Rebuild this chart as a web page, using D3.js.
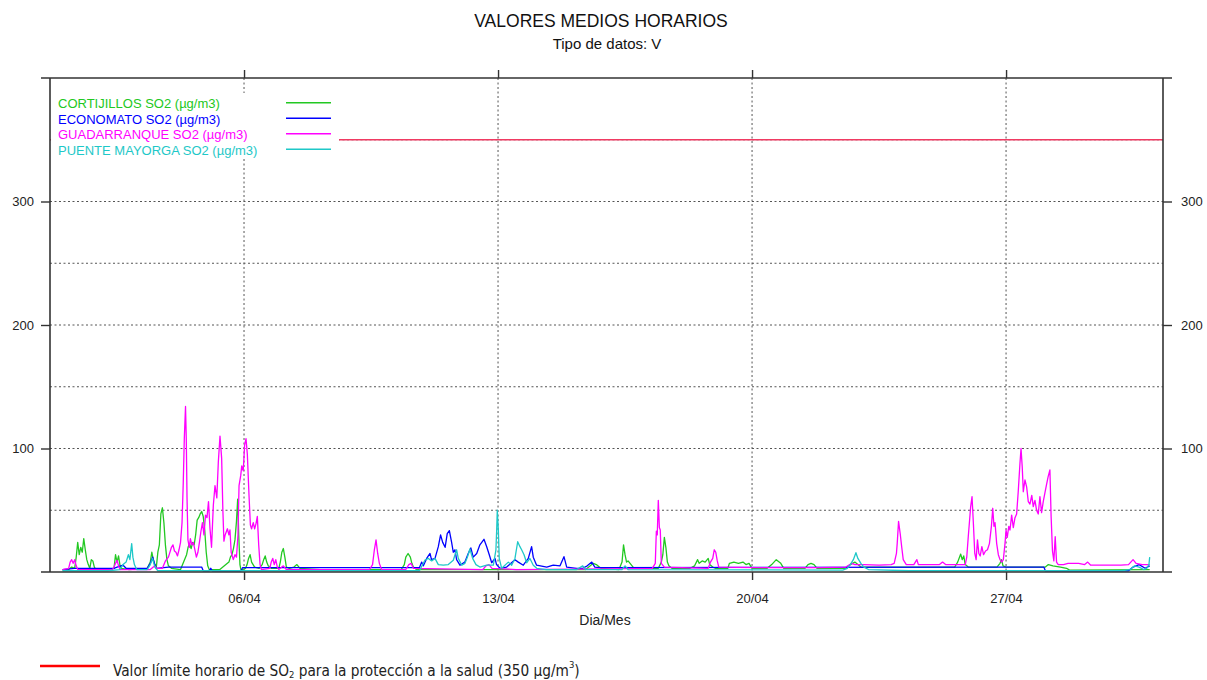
<!DOCTYPE html>
<html>
<head>
<meta charset="utf-8">
<script src="https://cdn.jsdelivr.net/npm/d3@7"></script>
<style>
  html, body { margin: 0; padding: 0; background: #fff; }
  svg { display: block; font-family: "Liberation Sans", Arial, sans-serif; }
</style>
</head>
<body>
<svg id="chart" width="1207" height="680"></svg>
<script>
// ---------------- DATA (hour since 01/04 00:00, value µg/m3) ----------------
const seriesNames = ["CORTIJILLOS SO2 (µg/m3)", "ECONOMATO SO2 (µg/m3)", "GUADARRANQUE SO2 (µg/m3)", "PUENTE MAYORGA SO2 (µg/m3)"];

const cortijillos = [[0,1.5],[4,2],[6,4],[8,3],[9,12],[10,24],[11,14],[12,20],[13,16],[14,27],[15,18],[16,10],[17,6],[18,3],[19,10],[20,9],[21,4],[22,2],[34,3],[35,14],[36,8],[37,13],[38,5],[39,3],[44,2],[56,3],[58,8],[59,16],[60,10],[61,6],[62,4],[63,16],[64,22],[65,47],[66,52],[67,40],[68,22],[69,10],[70,5],[72,3],[78,2],[82,14],[83,20],[84,23],[85,19],[86,24],[87,22],[88,30],[89,42],[90,44],[91,47],[92,49],[93,45],[94,34],[95,16],[96,5],[97,2],[104,2],[106,4],[108,6],[110,8],[111,12],[112,14],[113,19],[114,26],[115,41],[115.8,59],[116.5,30],[117.3,6],[118,1.5],[121,3],[122,6],[123,11],[124,14],[125,8],[126,6],[127,4],[130,3],[132,6],[133,10],[134,13],[135,8],[136,5],[138,3],[143,3],[144,8],[145,16],[146,19],[147,12],[148,4],[150,3],[153,4],[155,6],[157,3],[170,2],[200,2],[224,2],[226,6],[227,12],[228.5,15],[230,12],[231,7],[232,4],[234,2],[300,2],[346,2],[349,5],[351,7],[353,6],[356,3],[368,2],[370,8],[371,22],[372,14],[373,8],[374,9],[376,6],[378,3],[394,3],[396,8],[397,14],[398,28],[399,20],[400,8],[401,5],[403,3],[415,3],[418,5],[420,10],[421,7],[423,9],[425,8],[427,11],[428,6],[430,4],[432,3],[440,3],[441,7],[444,8],[447,7],[450,8],[452,6],[454,7],[456,3],[466,3],[469,6],[472,10],[475,7],[477,3],[491,3],[493,6],[495,7],[497,6],[499,3],[518,3],[521,6],[524,8],[526,6],[528,4],[590,4],[592,8],[594,14.5],[595,10],[596,13],[597,6],[599,4],[618,4],[620,7],[621,10],[622,5],[624,4],[650,4],[652,6],[655,5],[660,4],[664,3],[666,1.5],[719,2]];

const economato = [[0,2],[8,3],[34,3],[36,4],[40,5.5],[42,3],[56,3],[58,7],[59.6,12],[61,6],[62,3],[70,4],[92,4],[93,1],[97,1],[98,3],[99,1],[118,1],[119,3.5],[236,3.5],[237.5,8],[238.6,5],[240.8,11],[243,15],[244,10],[246.3,11],[248.5,20.5],[250,30],[251.4,24],[253,20],[254.4,31],[255.8,33.5],[257.3,24],[258.4,16],[259.5,18],[260.6,10],[262.8,5.5],[266,8],[268.3,15],[270,19.5],[271.6,12],[273.9,15],[276,22],[278.7,26.5],[280.5,20.5],[282.2,14],[283.8,7.5],[286,11],[287,6],[289.3,3],[293.7,4],[299.2,10],[301.4,8],[304.7,5.5],[308,11],[310.2,20.5],[311.3,12],[313.5,5.5],[320.2,4],[324.5,5.5],[329,5],[331.6,12.4],[333.4,4],[340,3],[344,3],[347,5],[350,8],[352,4],[355,3.5],[649,4],[650,1],[705,1],[708,4],[712,6],[716,3],[719,5]];

const guadarranque = [[0,2],[4,3],[5,8],[6,10],[7,7],[8,10],[9,5],[10,2],[33,2],[34,4],[35,7],[36,9.5],[37,5],[38,2],[58,2],[60,4],[61,5],[62,3],[66,3],[68,9],[70,12],[72,20],[73,22],[74,17],[75,16],[76,13],[77,18],[78,24],[79,40],[79.8,72],[80.5,108],[81.3,134],[81.8,108],[82.3,60],[82.9,26],[83.8,20],[84.5,27],[85.5,22],[86.5,24],[87.5,18],[88.5,12],[89.5,16],[90.5,24],[91.5,33],[92.5,40],[93.5,30],[94.5,46],[95.5,44],[96.5,57],[97.5,35],[98.5,20],[99.7,54],[100.8,70],[102,60],[103,89],[104.1,110],[105.2,92],[106,50],[106.7,25],[107.5,30],[109,35],[110,30],[110.7,34],[111.5,16],[112.9,10],[114,14],[115,12],[116,30],[116.7,70],[117.8,78],[118.5,86],[119.5,82],[120.4,103],[121.3,108],[122.2,95],[123.3,62],[124.2,38],[125,35],[126.1,40],[127,35],[127.9,39],[128.8,45],[129.7,22],[130.6,6],[131.5,2],[137,3],[138,8],[139,11],[140,6],[141,10],[142,4],[143,2],[146,5],[148,2],[203,2],[205,6],[206.2,18],[207.3,26],[208.4,15],[209.5,7],[211,2],[227,2],[229,6],[230.5,7],[232,3],[278,2],[280,5],[282,6],[284,3],[300,2],[360,2.5],[390,3],[392,7],[392.7,33],[393.3,30],[394,58],[394.7,36],[395.3,34],[396,7],[398,4],[427,3],[428.5,8],[430,11],[431,18],[432,16],[433,9],[434,4],[460,3.5],[500,3.5],[518,4],[522,7],[524,6],[530,6],[540,5.5],[548,6],[550,7],[551.5,15],[552,23],[552.9,41],[554,31],[555,20],[556,10],[558,6],[563,6],[565,10],[566,6],[575,6],[580,6],[582,8],[584,6],[597,6],[598,12],[599,28.6],[600.6,53],[601.5,61],[602.4,39],[603.3,15],[604.2,10],[605.1,26],[606,15],[606.9,13],[608,20.5],[609.1,14],[610.4,17],[611.7,18],[613,23],[614.3,37],[615.2,51.6],[616,37],[616.7,40],[617.8,23],[618.9,14],[620,10],[621.1,8],[622.2,10],[623.3,23],[624,34],[624.8,28],[625.8,37],[626.6,34],[627.7,46],[628.8,36],[629.9,44],[631,47],[632.1,66],[633.2,88],[633.9,100],[634.7,85],[635.4,65],[636.5,74.5],[637.6,69],[638.7,57],[639.8,55],[641,62],[642,53],[643.1,58],[644.2,50],[645.3,47],[646.4,61],[647.5,48],[648.6,57],[649.7,64],[650.8,71],[651.8,77],[653,82.6],[653.8,45],[654.7,17],[655.6,9],[656.5,28.6],[657.4,8],[658.5,6],[662,6],[665,7],[672,7],[676,6],[678,8],[680,5.5],[700,5.5],[705,6],[708,10],[710,7],[714,6],[719,6]];

const puenteMayorga = [[0,1],[30,1],[38,2],[40,6],[42,8],[43.5,14],[44.5,10],[45.7,23],[46.5,12],[47.5,6],[49,2],[56,2],[58,6],[59.5,11],[61,4],[63,1],[236,1],[239.7,9.7],[241.9,11],[244.1,9],[246.3,11],[248.5,6],[251.8,5.5],[255.1,6],[258.4,9.5],[260.6,18],[261.7,11],[264,5.5],[266.1,7],[267.7,12],[269.4,18.6],[271.2,11],[273.4,6],[276,4],[280.5,5.5],[284.9,5.5],[286.6,18],[287.1,34],[287.5,50],[288.2,34],[288.8,11],[290.4,3],[294.8,8],[297,5.5],[299.2,11],[301,24.5],[302.5,20.5],[303.6,18],[305.2,14],[306.9,7.5],[309.1,11],[311.3,5.5],[313.6,3],[320,2],[340,2],[344,5],[346,2],[370,2],[372,5],[374,2],[516,1.5],[519,3],[521,6],[523,10],[524.7,15.6],[526,11],[528,7],[530,4],[533,2],[560,1],[700,1],[706,2],[709,5],[712,4],[715,2],[717,3],[718.5,6],[719,12]];

const limitValue = 350;
const dayTickHours = [120, 288, 456, 624];
const dayTickLabels = ["06/04", "13/04", "20/04", "27/04"];
const yTickValues = [100, 200, 300];
const yGridValues = [50, 100, 150, 200, 250, 300, 350];

// ---------------- STYLES / LAYOUT ----------------
const colors = ["#22c822", "#0000ff", "#ff00ff", "#1ec8c8"];
const L = 50, R = 1163, T = 78, B = 572;

const svg = d3.select("#chart");
const x = d3.scaleLinear().domain([-8.33, 727.8]).range([L, R]);
const y = d3.scaleLinear().domain([0, 400]).range([B, T]);

// Gridlines
const grid = svg.append("g");
grid.selectAll("line.h").data(yGridValues).join("line")
  .attr("x1", L).attr("x2", R).attr("y1", d => y(d)).attr("y2", d => y(d))
  .attr("stroke", "#555").attr("stroke-width", 1).attr("stroke-dasharray", "2,2.5");
grid.selectAll("line.v").data(dayTickHours).join("line")
  .attr("x1", d => x(d)).attr("x2", d => x(d)).attr("y1", T).attr("y2", B)
  .attr("stroke", "#555").attr("stroke-width", 1).attr("stroke-dasharray", "2,2.5");

// Limit line
svg.append("line")
  .attr("x1", L).attr("x2", R).attr("y1", y(limitValue)).attr("y2", y(limitValue))
  .attr("stroke", "#f03a62").attr("stroke-width", 1.5);

// Series
const allSeries = [cortijillos, economato, guadarranque, puenteMayorga];
const line = d3.line().x(d => x(d[0])).y(d => y(d[1]));
allSeries.forEach((s, i) => {
  svg.append("path").datum(s)
    .attr("d", line).attr("fill", "none")
    .attr("stroke", colors[i]).attr("stroke-width", 1.3)
    .attr("stroke-linejoin", "round");
});

// Legend box (white background covering grid and limit line)
const lg = svg.append("g");
lg.append("rect").attr("x", L + 1).attr("y", 93).attr("width", 288).attr("height", 65).attr("fill", "#fff");
seriesNames.forEach((n, i) => {
  const yy = 102.7 + i * 15.5;
  lg.append("text").attr("x", 58).attr("y", yy + 5.3)
    .attr("fill", colors[i]).attr("font-size", 13).text(n);
  lg.append("line").attr("x1", 286).attr("x2", 331).attr("y1", yy).attr("y2", yy)
    .attr("stroke", colors[i]).attr("stroke-width", 1.4);
});

// Axes
const axisColor = "#333";
const gl = svg.append("g").attr("transform", `translate(${L},0)`)
  .call(d3.axisLeft(y).tickValues(yTickValues).tickSize(9).tickPadding(7));
const gr = svg.append("g").attr("transform", `translate(${R},0)`)
  .call(d3.axisRight(y).tickValues(yTickValues).tickSize(9).tickPadding(9));
const gb = svg.append("g").attr("transform", `translate(0,${B})`)
  .call(d3.axisBottom(x).tickValues(dayTickHours).tickFormat((d, i) => dayTickLabels[i]).tickSize(8).tickPadding(14));
const gt = svg.append("g").attr("transform", `translate(0,${T})`)
  .call(d3.axisTop(x).tickValues(dayTickHours).tickFormat("").tickSize(8));
[gl, gr, gb, gt].forEach(g => {
  g.select(".domain").remove();
  g.selectAll(".tick line").attr("stroke", axisColor).attr("stroke-width", 1.4);
  g.selectAll(".tick text").attr("fill", "#222").attr("font-size", 13)
    .attr("font-family", "'Liberation Sans', Arial, sans-serif");
});

// Frame
const fr = svg.append("g").attr("stroke", axisColor).attr("stroke-width", 1.6);
fr.append("line").attr("x1", 41).attr("x2", 1172).attr("y1", T).attr("y2", T);
fr.append("line").attr("x1", 41).attr("x2", 1172).attr("y1", B).attr("y2", B);
fr.append("line").attr("x1", L).attr("x2", L).attr("y1", T).attr("y2", B);
fr.append("line").attr("x1", R).attr("x2", R).attr("y1", T).attr("y2", B);

// Titles
svg.append("text").attr("x", 601).attr("y", 27).attr("text-anchor", "middle")
  .attr("font-size", 17.5).attr("fill", "#111").text("VALORES MEDIOS HORARIOS");
svg.append("text").attr("x", 607).attr("y", 49).attr("text-anchor", "middle")
  .attr("font-size", 15).attr("fill", "#111").text("Tipo de datos: V");
svg.append("text").attr("x", 605).attr("y", 625).attr("text-anchor", "middle")
  .attr("font-size", 14).attr("fill", "#222").text("Dia/Mes");

// Bottom legend
svg.append("line").attr("x1", 40).attr("x2", 100).attr("y1", 666).attr("y2", 666)
  .attr("stroke", "#ff0000").attr("stroke-width", 2.5);
const bt = svg.append("text").attr("x", 113).attr("y", 676)
  .attr("font-family", "'Liberation Sans Narrow', 'DejaVu Sans Condensed', Arial, sans-serif")
  .attr("font-size", 18).attr("fill", "#222");
bt.append("tspan").text("Valor límite horario de SO");
bt.append("tspan").attr("font-size", "0.62em").attr("dy", 2).text("2");
bt.append("tspan").attr("dy", -2).text(" para la protección a la salud (350 µg/m");
bt.append("tspan").attr("font-size", "0.62em").attr("dy", -8).text("3");
bt.append("tspan").attr("dy", 8).text(")");
const w = bt.node().getComputedTextLength();
bt.attr("font-size", 18 * 467 / w);
</script>
</body>
</html>
